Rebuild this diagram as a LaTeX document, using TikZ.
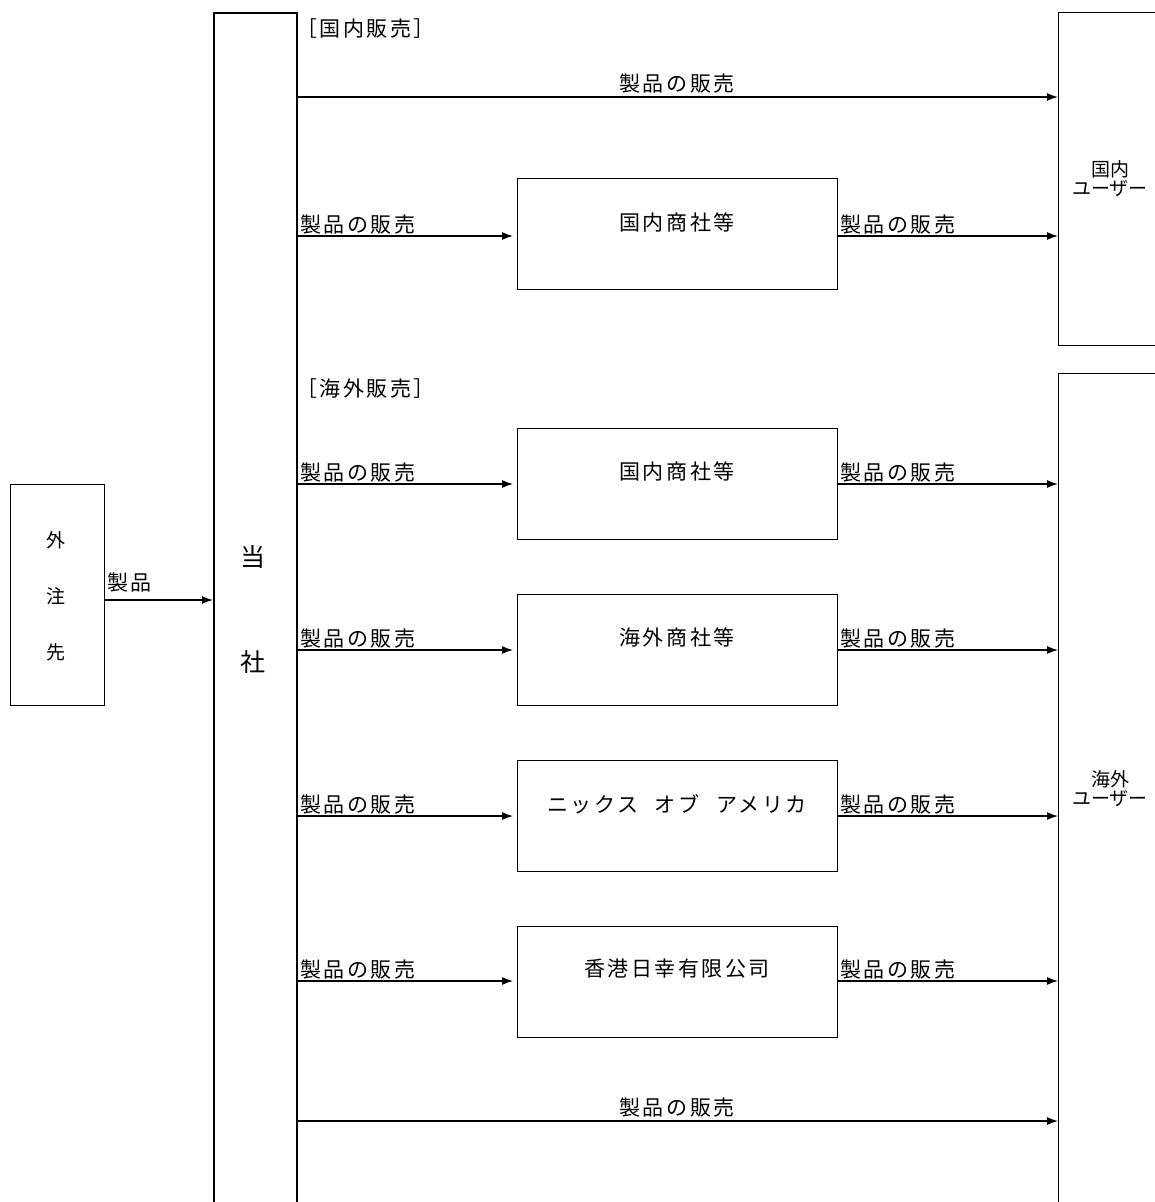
\documentclass[tikz,border=0pt]{standalone}
\usepackage{fontspec}
\newfontfamily\jp{Noto Sans CJK JP}
\newfontfamily\jpsp[LetterSpace=12]{Noto Sans CJK JP}
\usetikzlibrary{arrows.meta}
\tikzset{
  box/.style={draw, line width=1.4pt, inner sep=0pt},
  mainbox/.style={draw, line width=2.4pt, inner sep=0pt},
  txt/.style={font=\jpsp\fontsize{21}{24}\selectfont, inner sep=0pt},
  smalltxt/.style={font=\jp\fontsize{19}{22}\selectfont, inner sep=0pt, align=center},
  bigtxt/.style={font=\jp\fontsize{25}{28}\selectfont, inner sep=0pt},
  arr/.style={line width=1.3pt, -{Latex[length=11pt,width=8pt]}},
}
\begin{document}
\begin{tikzpicture}[x=1pt,y=-1pt]
\clip (0,0) rectangle (1155,1202);
\fill[white] (0,0) rectangle (1155,1202);
% main boxes
\node[box, minimum width=94pt, minimum height=221pt, anchor=north west] (gaichu) at (10,484) {};
\node[mainbox, minimum width=83pt, minimum height=1230pt, anchor=north west] (tousha) at (213,12) {};
\node[box, minimum width=110pt, minimum height=333pt, anchor=north west] (duser) at (1058,12) {};
\node[box, minimum width=110pt, minimum height=860pt, anchor=north west] (ouser) at (1058,373) {};
% intermediary boxes
\node[box, minimum width=320pt, minimum height=111pt, anchor=north west] (b1) at (517,178) {};
\node[box, minimum width=320pt, minimum height=111pt, anchor=north west] (b2) at (517,428) {};
\node[box, minimum width=320pt, minimum height=111pt, anchor=north west] (b3) at (517,594) {};
\node[box, minimum width=320pt, minimum height=111pt, anchor=north west] (b4) at (517,760) {};
\node[box, minimum width=320pt, minimum height=111pt, anchor=north west] (b5) at (517,926) {};
% texts in boxes
\node[smalltxt] (g1) at (56,540) {外};
\node[smalltxt] (g2) at (56,596) {注};
\node[smalltxt] (g3) at (56,652) {先};
\node[bigtxt] (t1) at (253,557) {当};
\node[bigtxt] (t2) at (253,662) {社};
\node[smalltxt] (du) at (1110,179) {国内\\[-3pt]ユーザー};
\node[smalltxt] (ou) at (1110,789) {海外\\[-3pt]ユーザー};
\node[txt] (b1t) at (677,222) {国内商社等};
\node[txt] (b2t) at (677,471) {国内商社等};
\node[txt] (b3t) at (677,637) {海外商社等};
\node[txt] (b4t) at (677,804) {ニックス\hspace{0.8em}オブ\hspace{0.8em}アメリカ};
\node[txt] (b5t) at (677,969) {香港日幸有限公司};
% section headings
\node[txt, anchor=west] (h1) at (296,29) {［国内販売］};
\node[txt, anchor=west] (h2) at (296,389) {［海外販売］};
% coordinates for direct arrows
\coordinate (ytop) at (0,97);
\coordinate (ybot) at (0,1121);
% arrows
\draw[arr] (gaichu.east |- 0,600) -- (tousha.west |- 0,600);
\node[txt, anchor=west] (lg) at (107,583) {製品};
\draw[arr] (tousha.east |- ytop) -- (duser.west |- ytop);
\node[txt] (l0) at (677,84) {製品の販売};
\draw[arr] (tousha.east |- ybot) -- (ouser.west |- ybot);
\node[txt] (l9) at (677,1108) {製品の販売};
\foreach \b/\y/\u in {b1/236/duser, b2/484/ouser, b3/650/ouser, b4/816/ouser, b5/981/ouser}{
  \draw[arr, shorten >=4pt] (tousha.east |- 0,\y) -- (\b.west |- 0,\y);
  \draw[arr] (\b.east |- 0,\y) -- (\u.west |- 0,\y);
  \node[txt, anchor=south west] at (300,\y-2) {製品の販売};
  \node[txt, anchor=south west] at (840,\y-2) {製品の販売};
}
\end{tikzpicture}
\end{document}
